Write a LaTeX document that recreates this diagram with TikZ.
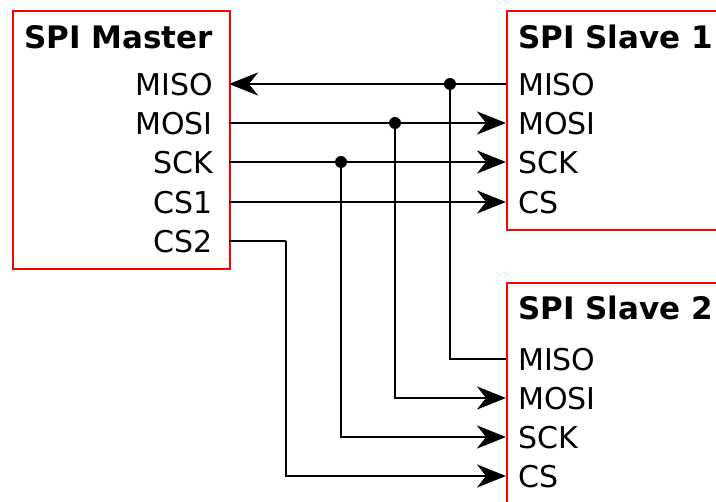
\documentclass[tikz,border=0pt]{standalone}
\usepackage{fontspec}
\setmainfont{DejaVu Sans}
\usetikzlibrary{arrows.meta}
\begin{document}
\begin{tikzpicture}[x=1pt,y=-1pt,
  box/.style={draw=red,line width=2.4pt,rectangle,inner sep=0pt,anchor=north west},
  title/.style={font=\fontsize{31}{36}\selectfont\bfseries,inner sep=0pt},
  pin/.style={font=\fontsize{30}{35}\selectfont,inner sep=0pt},
  wire/.style={line width=2.8pt},
  arr/.style={wire,-{Stealth[length=29pt,width=23pt,inset=9pt]}},
  dot/.style={circle,fill=black,inner sep=0pt,minimum size=12pt}]
\useasboundingbox (0,0) rectangle (716,502);
\clip (0,0) rectangle (716,502);
% boxes
\node[box,minimum width=217pt,minimum height=258pt] (master) at (12,10) {};
\node[box,minimum width=260pt,minimum height=219pt] (slave1) at (506,10) {};
\node[box,minimum width=260pt,minimum height=260pt] (slave2) at (506,282) {};
% titles
\node[title,anchor=base west] (tm) at (24,49) {SPI Master};
\node[title,anchor=base west] (ts1) at (518,49) {SPI Slave 1};
\node[title,anchor=base west] (ts2) at (518,320) {SPI Slave 2};
% master pin labels
\node[pin,anchor=base east] (lmMISO) at (213,96) {MISO};
\node[pin,anchor=base east] (lmMOSI) at (213,135) {MOSI};
\node[pin,anchor=base east] (lmSCK) at (213,174) {SCK};
\node[pin,anchor=base east] (lmCS1) at (213,214) {CS1};
\node[pin,anchor=base east] (lmCS2) at (213,253) {CS2};
% slave 1 labels
\node[pin,anchor=base west] (l1MISO) at (518,96) {MISO};
\node[pin,anchor=base west] (l1MOSI) at (518,135) {MOSI};
\node[pin,anchor=base west] (l1SCK) at (518,174) {SCK};
\node[pin,anchor=base west] (l1CS) at (518,214) {CS};
% slave 2 labels
\node[pin,anchor=base west] (l2MISO) at (518,371) {MISO};
\node[pin,anchor=base west] (l2MOSI) at (518,410) {MOSI};
\node[pin,anchor=base west] (l2SCK) at (518,449) {SCK};
\node[pin,anchor=base west] (l2CS) at (518,488) {CS};
% pin coordinates
\coordinate (mMISO) at (229,84);
\coordinate (mMOSI) at (229,123);
\coordinate (mSCK) at (229,162);
\coordinate (mCS1) at (229,202);
\coordinate (mCS2) at (229,241);
\coordinate (s1MISO) at (506,84);
\coordinate (s1MOSI) at (506,123);
\coordinate (s1SCK) at (506,162);
\coordinate (s1CS) at (506,202);
\coordinate (s2MISO) at (506,359);
\coordinate (s2MOSI) at (506,398);
\coordinate (s2SCK) at (506,437);
\coordinate (s2CS) at (506,476);
\coordinate (jMISO) at (450,84);
\coordinate (jMOSI) at (395,123);
\coordinate (jSCK) at (341,162);
\coordinate (bCS2) at (286,241);
% wires
\draw[arr] (s1MISO) -- (mMISO);
\draw[wire] (jMISO) |- (s2MISO);
\draw[arr] (mMOSI) -- (s1MOSI);
\draw[arr] (jMOSI) |- (s2MOSI);
\draw[arr] (mSCK) -- (s1SCK);
\draw[arr] (jSCK) |- (s2SCK);
\draw[arr] (mCS1) -- (s1CS);
\draw[wire] (mCS2) -- (bCS2);
\draw[arr] (bCS2) |- (s2CS);
% junction dots
\node[dot] (dMISO) at (jMISO) {};
\node[dot] (dMOSI) at (jMOSI) {};
\node[dot] (dSCK) at (jSCK) {};
\end{tikzpicture}
\end{document}
